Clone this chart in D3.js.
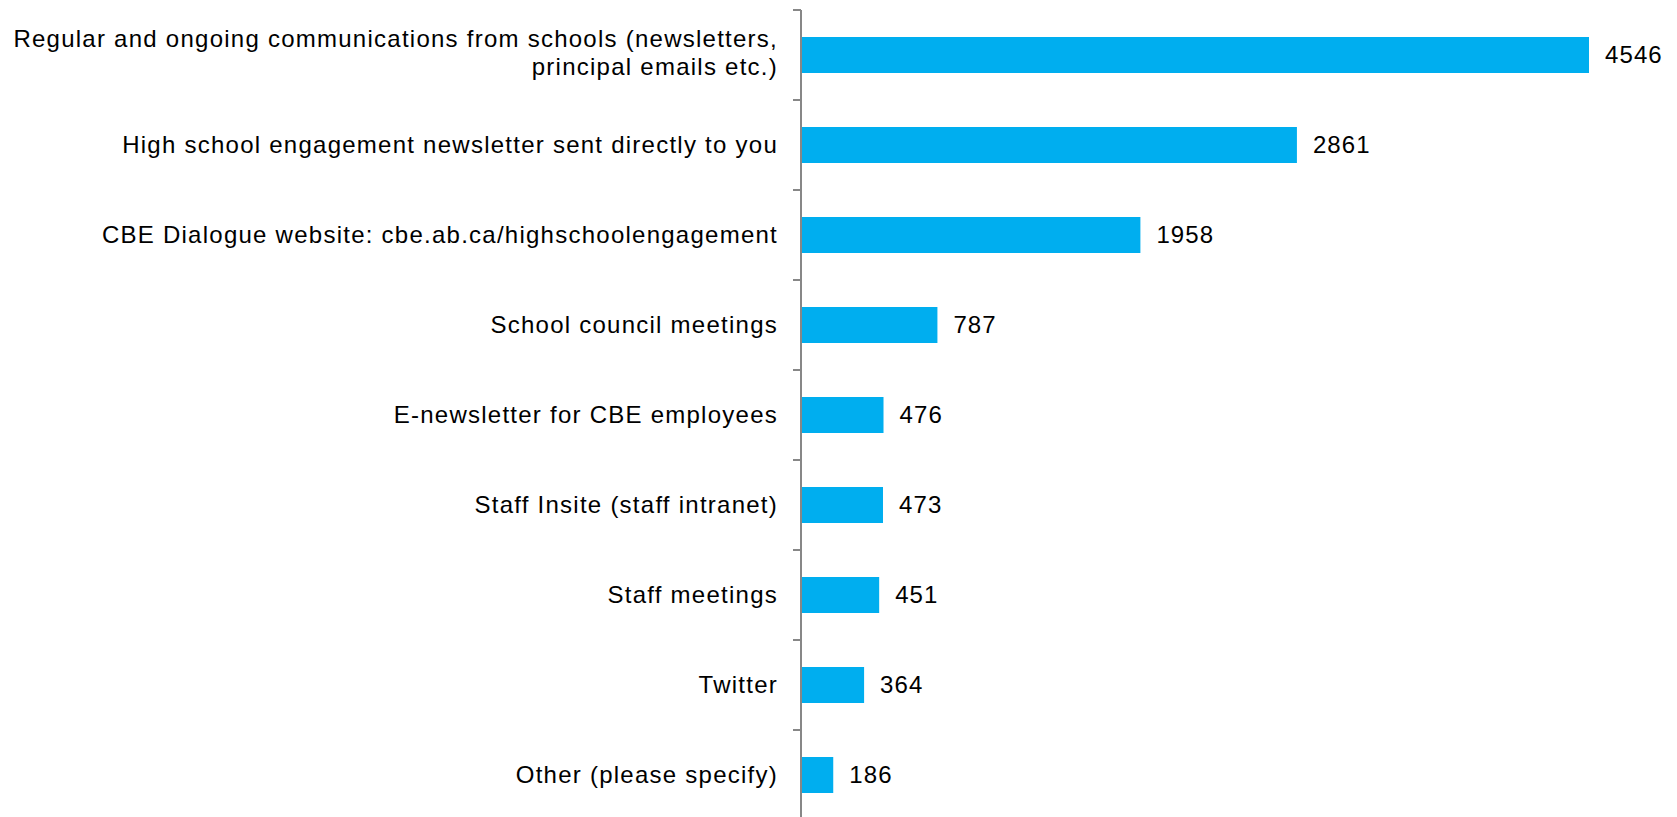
<!DOCTYPE html>
<html>
<head>
<meta charset="utf-8">
<script src="https://cdn.jsdelivr.net/npm/d3@7"></script>
<style>
  html, body { margin: 0; padding: 0; background: #ffffff; }
  svg { display: block; }
  text { font-family: "Liberation Sans", Arial, sans-serif; fill: #000000; }
  .cat { letter-spacing: 1.25px; }
  .val { letter-spacing: 1.1px; }
</style>
</head>
<body>
<svg id="chart" width="1677" height="817"></svg>
<script>
const categories = [
  "Regular and ongoing communications from schools (newsletters, principal emails etc.)",
  "High school engagement newsletter sent directly to you",
  "CBE Dialogue website: cbe.ab.ca/highschoolengagement",
  "School council meetings",
  "E-newsletter for CBE employees",
  "Staff Insite (staff intranet)",
  "Staff meetings",
  "Twitter",
  "Other (please specify)"
];
const values = [4546, 2861, 1958, 787, 476, 473, 451, 364, 186];

const axisX = 801;
const svg = d3.select("#chart");

const y = d3.scaleBand()
  .domain(categories)
  .range([10, 820])
  .paddingInner(0.6)
  .paddingOuter(0.3);

const x = d3.scaleLinear()
  .domain([0, d3.max(values)])
  .range([axisX, 1589]);

const data = categories.map((c, i) => ({ c, v: values[i] }));

// bars
svg.append("g").selectAll("rect")
  .data(data)
  .join("rect")
  .attr("x", x(0))
  .attr("y", d => y(d.c))
  .attr("width", d => x(d.v) - x(0))
  .attr("height", y.bandwidth())
  .attr("fill", "#00AEEF");

// value labels
svg.append("g").selectAll("text")
  .data(data)
  .join("text")
  .attr("class", "val")
  .attr("x", d => x(d.v) + 16)
  .attr("y", d => y(d.c) + y.bandwidth() / 2)
  .attr("dy", "0.35em")
  .attr("font-size", 24)
  .text(d => d.v);

// category axis: vertical line with ticks between bands
const step = y.step();
const gap = (step - y.bandwidth()) / 2;
const tickYs = categories.map(c => y(c) - gap)
  .concat([y(categories[categories.length - 1]) + y.bandwidth() + gap]);
const axis = svg.append("g");
axis.append("line")
  .attr("x1", axisX).attr("x2", axisX)
  .attr("y1", tickYs[0]).attr("y2", tickYs[tickYs.length - 1])
  .attr("stroke", "#878787").attr("stroke-width", 2);
axis.selectAll("line.tick")
  .data(tickYs)
  .join("line")
  .attr("class", "tick")
  .attr("x1", axisX - 8).attr("x2", axisX)
  .attr("y1", d => d).attr("y2", d => d)
  .attr("stroke", "#878787").attr("stroke-width", 2);

// category labels, wrapped to fit left of the axis
const maxWidth = 790;
const lineH = 28;
const labelX = axisX - 23;
const labels = svg.append("g");
data.forEach(d => {
  const t = labels.append("text")
    .attr("class", "cat")
    .attr("text-anchor", "end")
    .attr("font-size", 24)
    .attr("x", labelX);
  const words = d.c.split(" ");
  const lines = [];
  let cur = [];
  const probe = t.append("tspan");
  words.forEach(w => {
    const test = cur.concat([w]).join(" ");
    probe.text(test);
    if (probe.node().getComputedTextLength() > maxWidth && cur.length) {
      lines.push(cur.join(" "));
      cur = [w];
    } else {
      cur.push(w);
    }
  });
  lines.push(cur.join(" "));
  probe.remove();
  const cy = y(d.c) + y.bandwidth() / 2;
  const first = cy - (lines.length - 1) * lineH / 2 - 2 * (lines.length - 1);
  lines.forEach((ln, i) => {
    t.append("tspan")
      .attr("x", labelX)
      .attr("y", first + i * lineH)
      .attr("dy", "0.35em")
      .text(ln);
  });
});
</script>
</body>
</html>
